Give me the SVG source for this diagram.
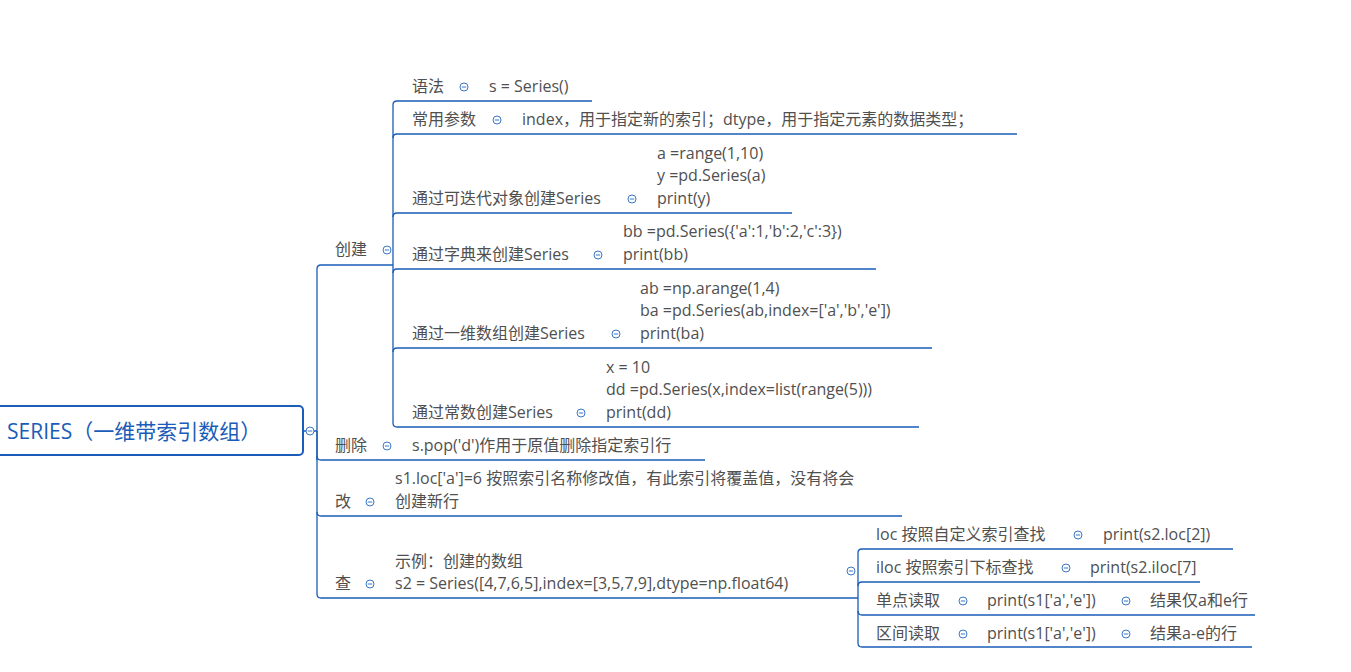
<svg xmlns="http://www.w3.org/2000/svg" width="1351" height="672" viewBox="0 0 1351 672">
<style>
text{font-family:"Open Sans","Noto Sans CJK SC",sans-serif;font-size:16px;fill:#505050}
.l{fill:none;stroke:#1a5cb8;stroke-width:1.3}
.c{fill:#fff;stroke:#3b78c9;stroke-width:1}
.m{stroke:#3b78c9;stroke-width:1}
</style>
<defs>
<g id="col"><circle r="4" class="c"/><line x1="-2.2" x2="2.2" class="m"/></g>
</defs>
<rect width="1351" height="672" fill="#fff"/>
<g id="connectors">
<path class="l" d="M303,431 H317 M317,460 V269 Q317,265 321,265 H393"/>
<path class="l" d="M317,431 V594 Q317,598 321,598 H858"/>
<path class="l" d="M317,456 Q317,460 321,460 H705"/>
<path class="l" d="M317,512 Q317,516 321,516 H902"/>
<path class="l" d="M393,265 V105 Q393,101 397,101 H592"/>
<path class="l" d="M393,138 Q393,134 397,134 H1017"/>
<path class="l" d="M393,217 Q393,213 397,213 H792"/>
<path class="l" d="M393,273 Q393,269 397,269 H876"/>
<path class="l" d="M393,352 Q393,348 397,348 H932"/>
<path class="l" d="M393,265 V423 Q393,427 397,427 H919"/>
<path class="l" d="M858,598 V553 Q858,549 862,549 H1233"/>
<path class="l" d="M862,582 H1200 M858,586 Q858,582 862,582"/>
<path class="l" d="M858,598 V611 Q858,615 862,615 H1255"/>
<path class="l" d="M858,611 V643 Q858,647 862,647 H1252"/>
</g>
<g id="root"><rect x="-6" y="406" width="309" height="49" rx="4" fill="#fff" stroke="#1a5cb8" stroke-width="2"/>
<text x="7" y="439" style="font-size:21px;fill:#1a5cb8">SERIES（一维带索引数组）</text>
<use href="#col" x="310" y="431"/></g>
<g id="n-create"><text x="335" y="255">创建</text><use href="#col" x="387" y="250"/></g>
<g id="n-syntax"><text x="412" y="92">语法</text><use href="#col" x="464" y="87"/><text x="489" y="92">s = Series()</text></g>
<g id="n-param"><text x="412" y="125">常用参数</text><use href="#col" x="497" y="120"/><text x="522" y="125">index，用于指定新的索引；dtype，用于指定元素的数据类型；</text></g>
<g id="n-iter"><text x="412" y="204">通过可迭代对象创建Series</text><use href="#col" x="632" y="199"/><text x="657" y="159">a =range(1,10)</text><text x="657" y="181">y =pd.Series(a)</text><text x="657" y="204">print(y)</text></g>
<g id="n-dict"><text x="412" y="260">通过字典来创建Series</text><use href="#col" x="598" y="255"/><text x="623" y="237">bb =pd.Series({'a':1,'b':2,'c':3})</text><text x="623" y="260">print(bb)</text></g>
<g id="n-arr"><text x="412" y="339">通过一维数组创建Series</text><use href="#col" x="616" y="334"/><text x="640" y="294">ab =np.arange(1,4)</text><text x="640" y="316">ba =pd.Series(ab,index=['a','b','e'])</text><text x="640" y="339">print(ba)</text></g>
<g id="n-const"><text x="412" y="418">通过常数创建Series</text><use href="#col" x="581" y="413"/><text x="606" y="373">x = 10</text><text x="606" y="395">dd =pd.Series(x,index=list(range(5)))</text><text x="606" y="418">print(dd)</text></g>
<g id="n-del"><text x="335" y="451">删除</text><use href="#col" x="387" y="446"/><text x="412" y="451">s.pop('d')作用于原值删除指定索引行</text></g>
<g id="n-mod"><text x="335" y="507">改</text><use href="#col" x="370" y="502"/><text x="395" y="484">s1.loc['a']=6 按照索引名称修改值，有此索引将覆盖值，没有将会</text><text x="395" y="507">创建新行</text></g>
<g id="n-query"><text x="335" y="589">查</text><use href="#col" x="370" y="584"/><text x="395" y="567">示例：创建的数组</text><text x="395" y="589">s2 = Series([4,7,6,5],index=[3,5,7,9],dtype=np.float64)</text><use href="#col" x="851" y="571"/></g>
<g id="n-loc"><text x="876" y="540">loc 按照自定义索引查找</text><use href="#col" x="1078" y="535"/><text x="1103" y="540">print(s2.loc[2])</text></g>
<g id="n-iloc"><text x="876" y="573">iloc 按照索引下标查找</text><use href="#col" x="1066" y="568"/><text x="1090" y="573">print(s2.iloc[7]</text></g>
<g id="n-single"><text x="876" y="606">单点读取</text><use href="#col" x="963" y="601"/><text x="987" y="606">print(s1['a','e'])</text><use href="#col" x="1126" y="601"/><text x="1150" y="606">结果仅a和e行</text></g>
<g id="n-range"><text x="876" y="639">区间读取</text><use href="#col" x="963" y="634"/><text x="987" y="639">print(s1['a','e'])</text><use href="#col" x="1126" y="634"/><text x="1150" y="639">结果a-e的行</text></g>
</svg>
